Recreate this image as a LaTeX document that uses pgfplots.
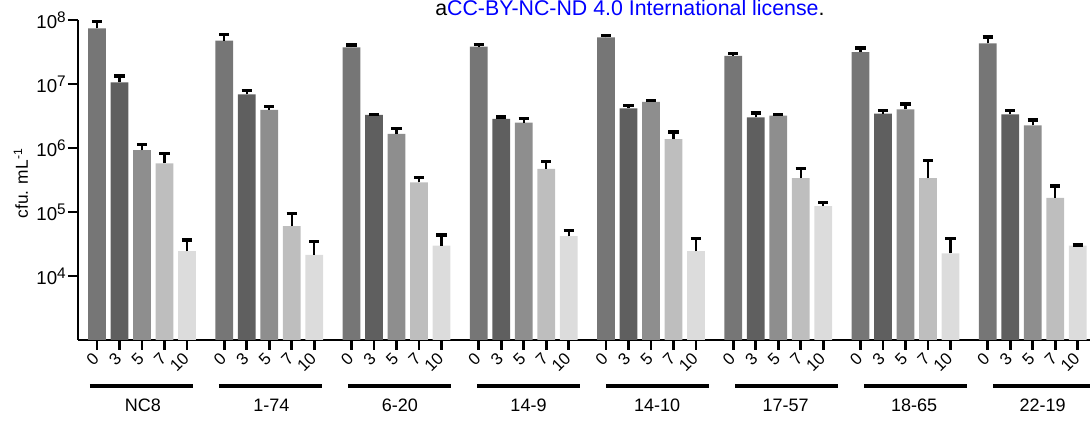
\documentclass[border=0pt]{standalone}
\usepackage{fontspec}
\setmainfont{Liberation Sans}
\usepackage{pgfplots}
\pgfplotsset{compat=1.18}
\definecolor{c0}{HTML}{767676}
\definecolor{c3}{HTML}{5F5F5F}
\definecolor{c5}{HTML}{8E8E8E}
\definecolor{c7}{HTML}{BEBEBE}
\definecolor{c10}{HTML}{DCDCDC}
\definecolor{ccblue}{HTML}{0000FF}
\newcommand{\tk}[1]{10\raisebox{4.5pt}{\fontsize{11.5}{11.5}\selectfont #1}}
\begin{document}
\begin{tikzpicture}
\path[use as bounding box] (-58.5pt,-60.75pt) rectangle (759pt,255pt);
\begin{axis}[
  at={(0pt,0pt)}, anchor=south west,
  scale only axis, width=759pt, height=240pt,
  ymode=log, log basis y=10, ymin=1e3, ymax=1e8,
  xmin=-0.844, xmax=44.13,
  axis x line*=bottom, axis y line*=left,
  axis line style={line width=2pt, -},
  tick align=outside, xtick pos=bottom, ytick pos=left,
  major tick length=7.5pt,
  major tick style={line width=2pt, black},
  yminorticks=false,
  ytick={1e4,1e5,1e6,1e7,1e8},
  yticklabels={\tk{4},\tk{5},\tk{6},\tk{7},\tk{8}},
  yticklabel style={font=\fontsize{14}{14}\selectfont, inner sep=1.5pt},
  xtick={0,1,2,3,4, 5.655,6.655,7.655,8.655,9.655, 11.31,12.31,13.31,14.31,15.31, 16.965,17.965,18.965,19.965,20.965, 22.62,23.62,24.62,25.62,26.62, 28.275,29.275,30.275,31.275,32.275, 33.93,34.93,35.93,36.93,37.93, 39.585,40.585,41.585,42.585,43.585},
  xticklabels={0,3,5,7,10, 0,3,5,7,10, 0,3,5,7,10, 0,3,5,7,10, 0,3,5,7,10, 0,3,5,7,10, 0,3,5,7,10, 0,3,5,7,10},
  xticklabel style={rotate=45, anchor=east, font=\fontsize{12.5}{12.5}\selectfont, inner sep=1pt},
  xticklabel shift=3.5pt,
  clip mode=individual,
  error bars/y dir=plus, error bars/y explicit,
  error bars/error mark=|,
  error bars/error bar style={line width=1.7pt, black},
  error bars/error mark options={black, line width=2.4pt, mark size=3.8pt},
]
\addplot[ybar, bar width=0.78, bar shift=0pt, fill=c0, draw=none] table[x=x, y=y, y error plus=e] {
x y e
0 7.4e7 2.2e7
5.655 4.75e7 1.25e7
11.31 3.74e7 3.4e6
16.965 3.83e7 3.7e6
22.62 5.37e7 3.3e6
28.275 2.74e7 2.4e6
33.93 3.16e7 4.9e6
39.585 4.32e7 1.1e7
};
\addplot[ybar, bar width=0.78, bar shift=0pt, fill=c3, draw=none] table[x=x, y=y, y error plus=e] {
x y e
1 1.06e7 2.7e6
6.655 6.9e6 9.5e5
12.31 3.28e6 5e4
17.965 2.84e6 2.1e5
23.62 4.17e6 4.3e5
29.275 3.01e6 5.1e5
34.93 3.44e6 3.9e5
40.585 3.36e6 4.7e5
};
\addplot[ybar, bar width=0.78, bar shift=0pt, fill=c5, draw=none] table[x=x, y=y, y error plus=e] {
x y e
2 9.3e5 2.1e5
7.655 3.93e6 5.7e5
13.31 1.66e6 3.4e5
18.965 2.5e6 4e5
24.62 5.24e6 3.6e5
30.275 3.2e6 1.6e5
35.93 4.02e6 8.5e5
41.585 2.26e6 4.8e5
};
\addplot[ybar, bar width=0.78, bar shift=0pt, fill=c7, draw=none] table[x=x, y=y, y error plus=e] {
x y e
3 5.75e5 2.55e5
8.655 6.0e4 3.6e4
14.31 2.91e5 5.2e4
19.965 4.7e5 1.4e5
25.62 1.37e6 4.1e5
31.275 3.37e5 1.38e5
36.93 3.37e5 2.93e5
42.585 1.66e5 8.9e4
};
\addplot[ybar, bar width=0.78, bar shift=0pt, fill=c10, draw=none] table[x=x, y=y, y error plus=e] {
x y e
4 2.45e4 1.2e4
9.655 2.13e4 1.37e4
15.31 2.98e4 1.39e4
20.965 4.2e4 1.0e4
26.62 2.45e4 1.45e4
32.275 1.24e5 1.6e4
37.93 2.26e4 1.54e4
43.585 2.98e4 7e2
};
\begin{scope}[line width=2.3pt]
\draw ([yshift=-34.5pt]axis cs:-0.311,1000) -- ([yshift=-34.5pt]axis cs:4.269,1000);
\draw ([yshift=-34.5pt]axis cs:5.422,1000) -- ([yshift=-34.5pt]axis cs:10.002,1000);
\draw ([yshift=-34.5pt]axis cs:11.155,1000) -- ([yshift=-34.5pt]axis cs:15.735,1000);
\draw ([yshift=-34.5pt]axis cs:16.888,1000) -- ([yshift=-34.5pt]axis cs:21.468,1000);
\draw ([yshift=-34.5pt]axis cs:22.621,1000) -- ([yshift=-34.5pt]axis cs:27.201,1000);
\draw ([yshift=-34.5pt]axis cs:28.354,1000) -- ([yshift=-34.5pt]axis cs:32.934,1000);
\draw ([yshift=-34.5pt]axis cs:34.087,1000) -- ([yshift=-34.5pt]axis cs:38.667,1000);
\draw ([yshift=-34.5pt]axis cs:39.820,1000) -- ([yshift=-34.5pt]axis cs:44.400,1000);
\end{scope}
\begin{scope}[every node/.style={anchor=base, font=\fontsize{13.5}{13.5}\selectfont, inner sep=0pt}]
\node at ([yshift=-53.6pt]axis cs:2.044,1000) {NC8};
\node at ([yshift=-53.6pt]axis cs:7.755,1000) {1-74};
\node at ([yshift=-53.6pt]axis cs:13.466,1000) {6-20};
\node at ([yshift=-53.6pt]axis cs:19.177,1000) {14-9};
\node at ([yshift=-53.6pt]axis cs:24.888,1000) {14-10};
\node at ([yshift=-53.6pt]axis cs:30.599,1000) {17-57};
\node at ([yshift=-53.6pt]axis cs:36.310,1000) {18-65};
\node at ([yshift=-53.6pt]axis cs:42.021,1000) {22-19};
\end{scope}
\end{axis}
\node[rotate=90, font=\fontsize{13}{13}\selectfont, inner sep=0pt] at (-42.75pt,117.4pt) {cfu. mL\textsuperscript{-1}};
\node[anchor=base west, font=\fontsize{16}{16}\selectfont, inner sep=0pt] at (267.75pt,243pt) {a\textcolor{ccblue}{CC-BY-NC-ND 4.0 International license}.};
\end{tikzpicture}
\end{document}
